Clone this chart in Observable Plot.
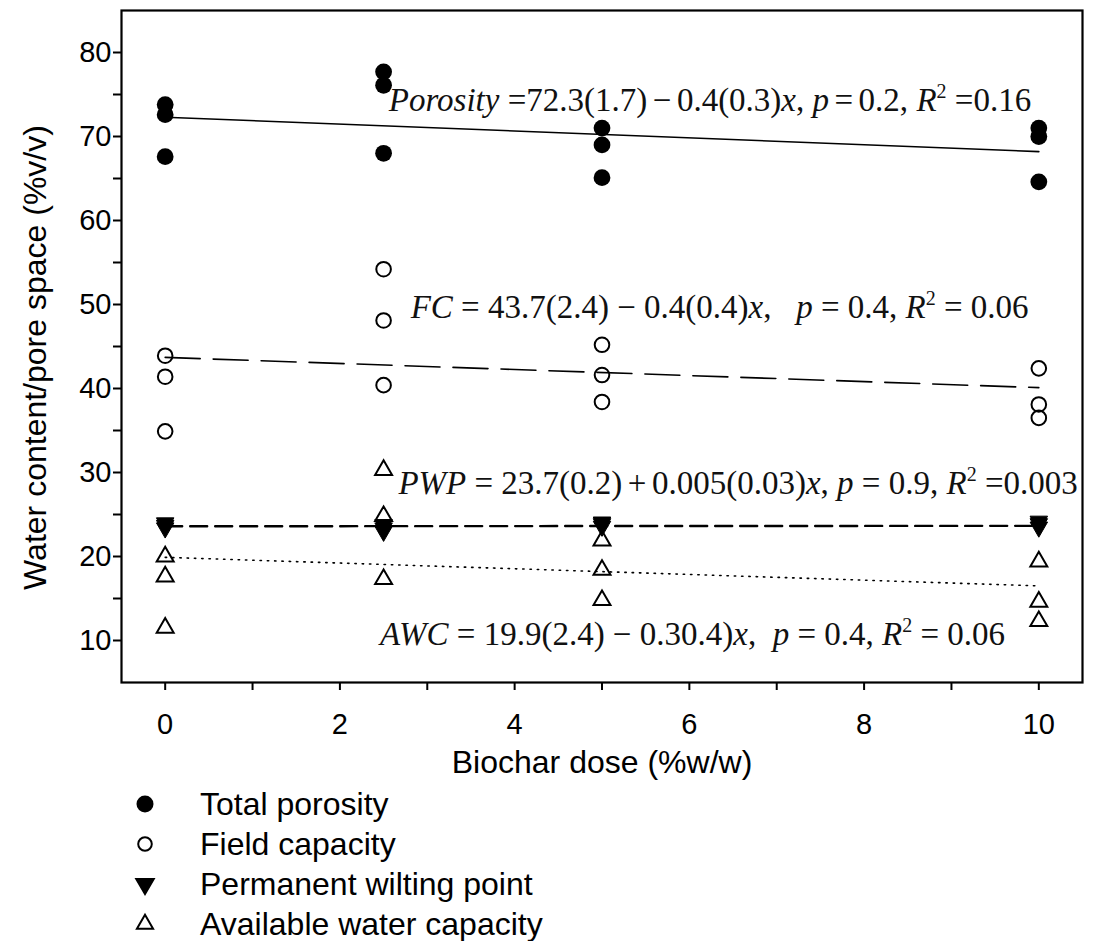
<!DOCTYPE html>
<html>
<head>
<meta charset="utf-8">
<script src="https://cdn.jsdelivr.net/npm/d3@7"></script>
<script src="https://cdn.jsdelivr.net/npm/@observablehq/plot@0.6"></script>
<style>
  html, body { margin: 0; padding: 0; background: #fff; }
  #chart svg { display: block; }
  #legend { position: relative; width: 1094px; font-family: "Liberation Sans", Arial, sans-serif; font-size: 32px; color: #000; }
  .row { position: relative; height: 40px; line-height: 40px; }
  .row svg { position: absolute; left: 130px; top: 5px; }
  .row span { position: absolute; left: 200px; top: 0; white-space: pre; }
</style>
</head>
<body>
<div id="chart"></div>
<div id="legend"></div>
<script>
// ---- data ----
const doses = [0, 2.5, 5, 10];
const totalPorosity = [
  [73.8, 72.6, 67.6],
  [77.7, 76.1, 68.0],
  [71.0, 69.0, 65.1],
  [71.0, 70.0, 64.6]
];
const fieldCapacity = [
  [43.9, 41.4, 34.9],
  [54.2, 48.1, 40.4],
  [45.2, 41.6, 38.4],
  [42.4, 38.1, 36.5]
];
const wiltingPoint = [
  [24.0, 23.7, 23.4],
  [23.0, 23.4, 23.8],
  [23.6, 23.9, 24.1],
  [23.5, 23.9, 24.2]
];
const availableWater = [
  [20.0, 17.6, 11.5],
  [30.3, 24.8, 17.3],
  [21.9, 18.4, 14.8],
  [19.4, 14.6, 12.3]
];
// regression lines: values at the two ends of the dose range
const fitDoses = [0, 10];
const fitPorosity = [72.3, 68.2];
const fitFieldCapacity = [43.7, 40.1];
const fitWiltingPoint = [23.6, 23.65];
const fitAvailableWater = [19.9, 16.5];

const seriesNames = ["Total porosity", "Field capacity", "Permanent wilting point", "Available water capacity"];

// equation labels: [text, style]  (i = italic, sup = superscript)
const eqPorosity = [["Porosity", "i"], [" =72.3(1.7)\u2006−\u20060.4(0.3)", ""], ["x", "i"], [", ", ""], ["p", "i"], ["\u2006=\u20060.2, ", ""], ["R", "i"], ["2", "sup"], [" =0.16", ""]];
const eqFieldCapacity = [["FC", "i"], [" = 43.7(2.4) − 0.4(0.4)", ""], ["x", "i"], [",   ", ""], ["p", "i"], [" = 0.4, ", ""], ["R", "i"], ["2", "sup"], [" = 0.06", ""]];
const eqWiltingPoint = [["PWP", "i"], [" = 23.7(0.2)\u2006+\u20060.005(0.03)", ""], ["x", "i"], [", ", ""], ["p", "i"], [" = 0.9, ", ""], ["R", "i"], ["2", "sup"], [" =0.003", ""]];
const eqAvailableWater = [["AWC", "i"], [" = 19.9(2.4) − 0.30.4)", ""], ["x", "i"], [",  ", ""], ["p", "i"], [" = 0.4, ", ""], ["R", "i"], ["2", "sup"], [" = 0.06", ""]];
const equationDose = [2.56, 2.81, 2.67, 2.46];
const equationValue = [73.0, 48.45, 27.4, 9.5];

const xTickValues = [0, 1, 2, 3, 4, 5, 6, 7, 8, 9, 10];
const xTickLabels = ["0", "", "2", "", "4", "", "6", "", "8", "", "10"];
const yTickValues = [10, 15, 20, 25, 30, 35, 40, 45, 50, 55, 60, 65, 70, 75, 80];
const yTickLabels = ["10", "", "20", "", "30", "", "40", "", "50", "", "60", "", "70", "", "80"];
const xTitle = "Biochar dose (%w/w)";
const yTitle = "Water content/pore space (%v/v)";

// ---- tables built from the arrays ----
const toRows = (vals) => doses.flatMap((d, i) => vals[i].map(v => ({dose: d, value: v})));
const fitRows = (vals) => fitDoses.map((d, i) => ({dose: d, value: vals[i]}));
const eqSegments = [eqPorosity, eqFieldCapacity, eqWiltingPoint, eqAvailableWater];
const equations = eqSegments.map((segs, i) => ({
  dose: equationDose[i], value: equationValue[i], segs, text: segs.map(s => s[0]).join("")
}));

const serif = "'Liberation Serif', 'Times New Roman', serif";
const sans = "'Liberation Sans', Arial, sans-serif";

const plot = Plot.plot({
  width: 1094,
  height: 784,
  marginLeft: 121,
  marginRight: 12,
  marginTop: 10,
  marginBottom: 102,
  x: {domain: [-0.5, 10.5]},
  y: {domain: [5, 85]},
  style: {fontFamily: sans, fontSize: "29px", color: "#000", background: "#fff", overflow: "visible"},
  marks: [
    Plot.axisX({ticks: xTickValues, tickFormat: d => xTickLabels[xTickValues.indexOf(d)], tickSize: 8, tickPadding: 23, strokeWidth: 2, label: null}),
    Plot.axisY({ticks: yTickValues, tickFormat: d => yTickLabels[yTickValues.indexOf(d)], tickSize: 8, tickPadding: 2, strokeWidth: 2, label: null}),
    Plot.text([xTitle], {frameAnchor: "bottom", dy: 90, fontFamily: sans, fontSize: 32}),
    Plot.text([yTitle], {frameAnchor: "left", textAnchor: "middle", rotate: -90, dx: -86, dy: 11, fontFamily: sans, fontSize: 32}),
    // regression lines
    Plot.line(fitRows(fitPorosity), {x: "dose", y: "value", stroke: "#000", strokeWidth: 1.6}),
    Plot.line(fitRows(fitFieldCapacity), {x: "dose", y: "value", stroke: "#000", strokeWidth: 1.6, strokeDasharray: "35,13"}),
    Plot.line(fitRows(fitWiltingPoint), {x: "dose", y: "value", stroke: "#000", strokeWidth: 2.4, strokeDasharray: "17,8"}),
    Plot.line(fitRows(fitAvailableWater), {x: "dose", y: "value", stroke: "#000", strokeWidth: 1.6, strokeDasharray: "1.4,5.9"}),
    // points
    Plot.dot(toRows(availableWater), {x: "dose", y: "value", symbol: "triangle", r: 6.3, fill: "none", stroke: "#000", strokeWidth: 2}),
    Plot.dot(toRows(wiltingPoint), {x: "dose", y: "value", symbol: "triangle", rotate: 180, r: 6.5, fill: "#000", stroke: "#000", strokeWidth: 1}),
    Plot.dot(toRows(fieldCapacity), {x: "dose", y: "value", symbol: "circle", r: 7.3, fill: "none", stroke: "#000", strokeWidth: 2}),
    Plot.dot(toRows(totalPorosity), {x: "dose", y: "value", symbol: "circle", r: 8.4, fill: "#000"}),
    // equations
    Plot.text(equations, {x: "dose", y: "value", text: "text", textAnchor: "start", lineAnchor: "bottom", fontFamily: serif, fontSize: 33, fill: "#111"}),
    Plot.frame({stroke: "#000", strokeWidth: 2.2})
  ]
});

// rich formatting for the equations (italic variables, superscripts)
d3.select(plot).selectAll("text").each(function() {
  const eq = equations.find(e => e.text === this.textContent);
  if (!eq) return;
  const sel = d3.select(this).style("white-space", "pre").text(null);
  let raised = false;
  for (const [t, kind] of eq.segs) {
    const ts = sel.append("tspan").text(t);
    if (kind === "i") ts.attr("font-style", "italic");
    if (kind === "sup") { ts.attr("font-size", "20px").attr("dy", -13); raised = true; }
    else if (raised) { ts.attr("dy", 13); raised = false; }
  }
});
document.getElementById("chart").appendChild(plot);

// ---- legend ----
const legendSymbols = [
  {type: d3.symbolCircle, size: Math.PI * 8.5 * 8.5, fill: "#000", stroke: "none", rotate: 0},
  {type: d3.symbolCircle, size: Math.PI * 6.8 * 6.8, fill: "none", stroke: "#000", rotate: 0},
  {type: d3.symbolTriangle, size: Math.PI * 6.5 * 6.5, fill: "#000", stroke: "#000", rotate: 180},
  {type: d3.symbolTriangle, size: Math.PI * 6.0 * 6.0, fill: "none", stroke: "#000", rotate: 0}
];
const legend = d3.select("#legend");
seriesNames.forEach((name, i) => {
  const s = legendSymbols[i];
  const row = legend.append("div").attr("class", "row");
  const svg = row.append("svg").attr("width", 30).attr("height", 30);
  svg.append("path")
    .attr("d", d3.symbol(s.type, s.size)())
    .attr("transform", `translate(15,15) rotate(${s.rotate})`)
    .attr("fill", s.fill).attr("stroke", s.stroke).attr("stroke-width", 2);
  row.append("span").text(name);
});
</script>
</body>
</html>
